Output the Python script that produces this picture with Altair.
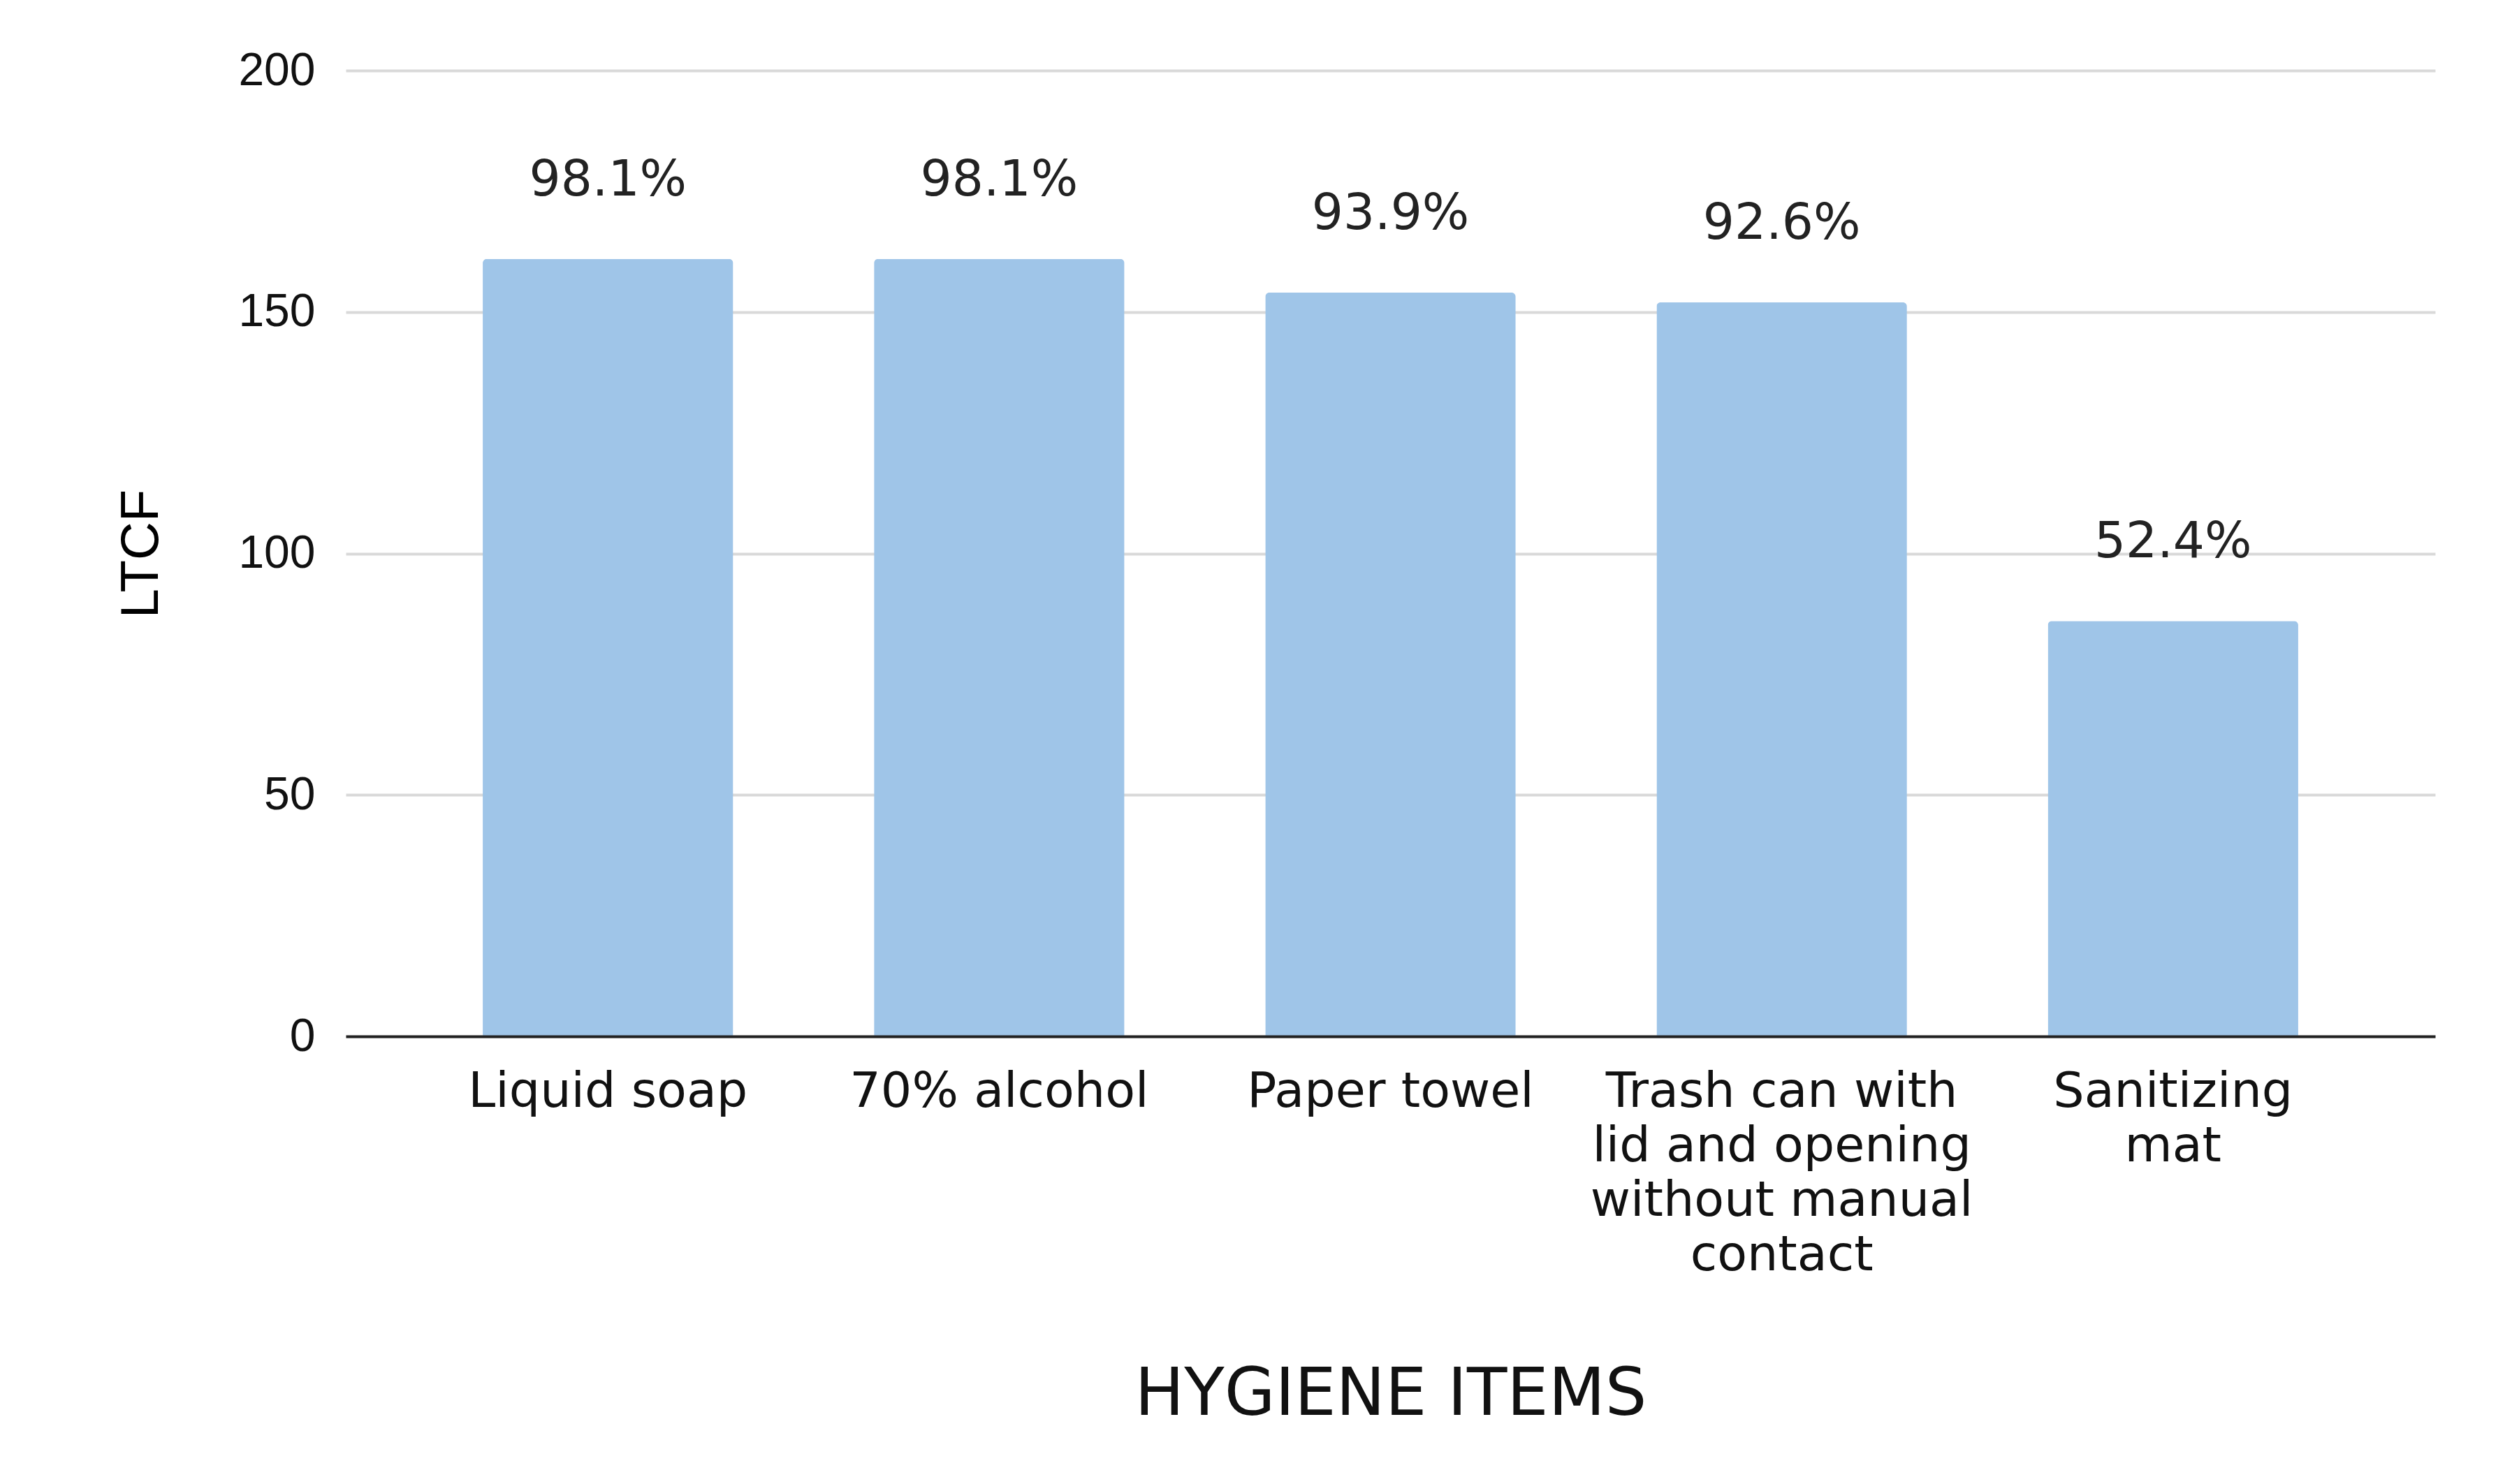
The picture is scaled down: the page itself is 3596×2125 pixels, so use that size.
import altair as alt
import pandas as pd

categories = [
    "Liquid soap",
    "70% alcohol",
    "Paper towel",
    "Trash can with\nlid and opening\nwithout manual\ncontact",
    "Sanitizing\nmat",
]
counts = [161, 161, 154, 152, 86]
percent_labels = ["98.1%", "98.1%", "93.9%", "92.6%", "52.4%"]
y_ticks = [0, 50, 100, 150, 200]

df = pd.DataFrame({"item": categories, "count": counts, "pct": percent_labels})

x = alt.X(
    "item:N",
    sort=categories,
    title="HYGIENE ITEMS",
    scale=alt.Scale(paddingInner=0.36, paddingOuter=0.35),
    axis=alt.Axis(
        labelAngle=0,
        labelExpr="split(datum.value, '\\n')",
        labelFont="DejaVu Sans",
        labelFontSize=70,
        labelLineHeight=78,
        labelPadding=45,
        labelColor="#111111",
        labelLimit=0,
        domainColor="#222222",
        domainWidth=4,
        ticks=False,
        titleFont="DejaVu Sans",
        titleFontSize=94,
        titleFontWeight="normal",
        titleColor="#111111",
        titleY=513,
        titleBaseline="middle",
        zindex=1,
    ),
)

y = alt.Y(
    "count:Q",
    title="LTCF",
    scale=alt.Scale(domain=[0, 200]),
    axis=alt.Axis(
        values=y_ticks,
        labelFont="Liberation Sans",
        labelFontSize=66,
        labelColor="#111111",
        labelPadding=44,
        ticks=False,
        domain=False,
        gridColor="#d9d9d9",
        gridWidth=4,
        titleFont="Liberation Sans",
        titleFontSize=76,
        titleFontWeight="normal",
        titleColor="#000000",
        titleX=-293,
        titleBaseline="middle",
        zindex=0,
    ),
)

bars = alt.Chart(df).mark_bar(
    color="#9fc5e8", cornerRadiusTopLeft=6, cornerRadiusTopRight=6
).encode(x=x, y=y)

labels = alt.Chart(df).mark_text(
    dy=-112, font="DejaVu Sans", fontSize=71, color="#222222", baseline="middle"
).encode(x=alt.X("item:N", sort=categories), y=alt.Y("count:Q"), text="pct:N")

chart = (
    alt.layer(bars, labels)
    .properties(
        width=2991,
        height=1383,
        autosize=alt.AutoSizeParams(type="none"),
        padding={"left": 487, "top": 93, "right": 90, "bottom": 600},
        background="white",
    )
    .configure_view(stroke=None)
)

chart.save("out.html", embed_options={"renderer": "svg", "actions": False})
